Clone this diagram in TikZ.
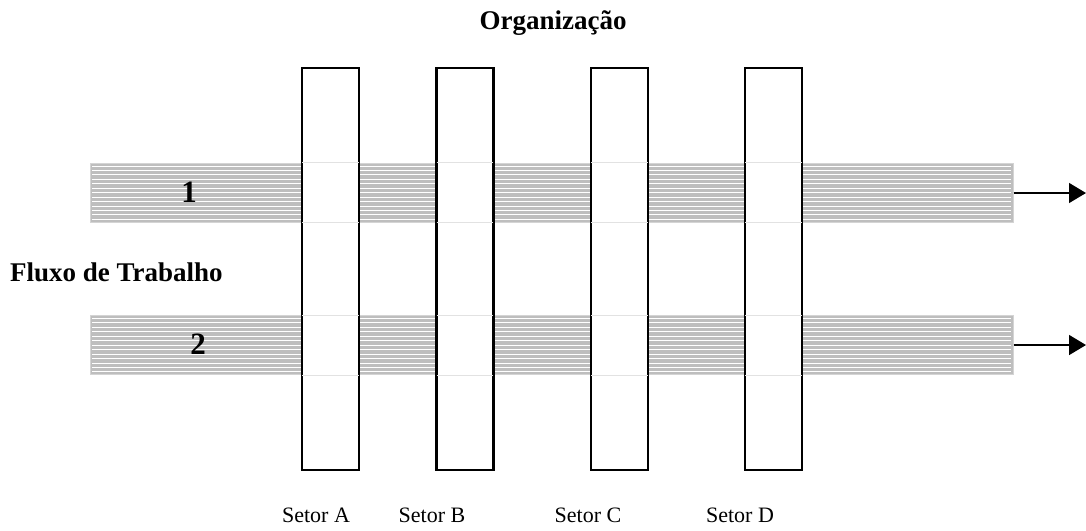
\documentclass[tikz,border=0pt]{standalone}
\usepackage{fontspec}
\setmainfont{Liberation Serif}
\usetikzlibrary{arrows.meta}
\definecolor{bandgray}{HTML}{BEBEBE}
\definecolor{bandedge}{HTML}{D4D4D4}
\definecolor{seamgray}{HTML}{E2E2E2}
\tikzset{
  band/.style={draw=bandedge, line width=1pt, fill=bandgray, minimum width=923pt, minimum height=59pt, inner sep=0pt,
    path picture={
      \foreach \k in {0,...,12}
        \draw[white, line width=1pt]
          ([yshift=-3pt-\k*4.45pt, xshift=2pt]path picture bounding box.north west) --
          ([yshift=-3pt-\k*4.45pt, xshift=-2pt]path picture bounding box.north east);
    }},
  sector/.style={draw=black, line width=2.2pt, fill=white, minimum width=57pt, minimum height=402pt, inner sep=0pt},
  seam/.style={draw=seamgray, line width=0.8pt},
  flow/.style={draw=black, line width=1.5pt, -{Triangle[length=17pt,width=20pt]}},
  title/.style={font=\fontsize{27}{30}\selectfont\bfseries, inner sep=0pt},
  number/.style={font=\fontsize{31}{34}\selectfont\bfseries, inner sep=0pt},
  caption/.style={font=\fontsize{22}{25}\selectfont, inner sep=0pt}
}
\begin{document}
\begin{tikzpicture}[x=1pt,y=-1pt]
  \useasboundingbox (0,0) rectangle (1086,530);

  % work-flow bands
  \node[band] (b1) at (551.5,192.5) {};
  \node[band] (b2) at (551.5,345) {};

  % sectors of the organisation
  \node[sector] (sA) at (330.5,269) {};
  \node[sector] (sB) at (465,269) {};
  \node[sector] (sC) at (619.5,269) {};
  \node[sector] (sD) at (773.5,269) {};

  % faint band edges showing through the sectors
  \foreach \s in {sA,sB,sC,sD}
    \foreach \b in {b1,b2} {
      \draw[seam] ([xshift=1.2pt]\s.west |- \b.north) -- ([xshift=-1.2pt]\s.east |- \b.north);
      \draw[seam] ([xshift=1.2pt]\s.west |- \b.south) -- ([xshift=-1.2pt]\s.east |- \b.south);
    }

  % outgoing arrows
  \coordinate (e1) at (1086,193);
  \coordinate (e2) at (1086,345);
  \draw[flow] (b1.east |- e1) -- (e1);
  \draw[flow] (b2.east |- e2) -- (e2);

  % labels
  \node[title] (org) at (553,23) {Organização};
  \node[title, anchor=west] (flx) at (10,272) {Fluxo de Trabalho};
  \node[number] (n1) at (189,192) {1};
  \node[number] (n2) at (198,344) {2};
  \node[caption] (lA) at (316,515) {Setor A};
  \node[caption] (lB) at (432,515) {Setor B};
  \node[caption] (lC) at (588,515) {Setor C};
  \node[caption] (lD) at (740,515) {Setor D};
\end{tikzpicture}
\end{document}
